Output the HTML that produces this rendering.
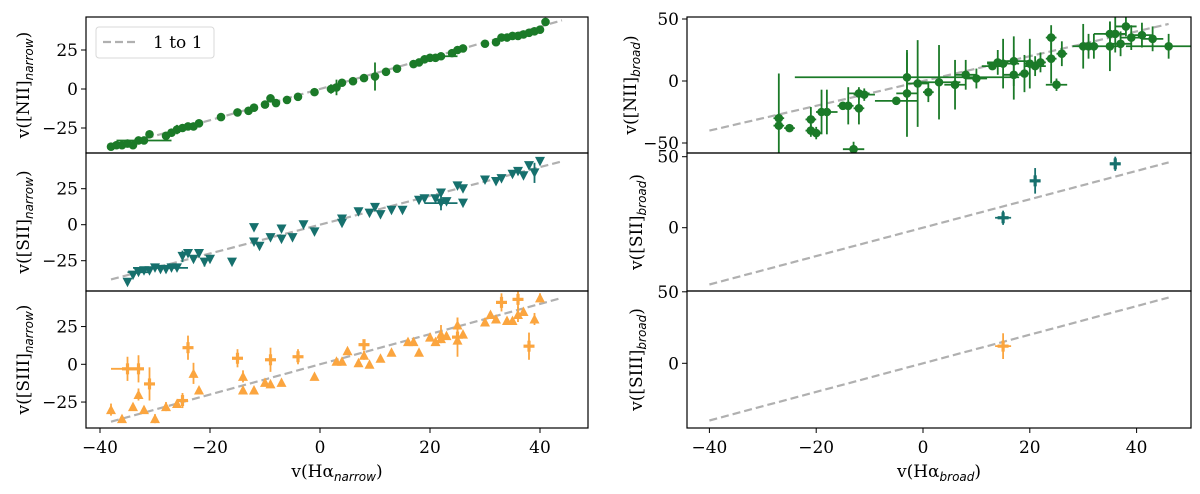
<!DOCTYPE html>
<html><head><meta charset="utf-8">
<style>
html,body{margin:0;padding:0;background:#fff;}
svg{display:block;}
text{font-family:"DejaVu Serif","Liberation Serif",serif;fill:#000;}
.sub{font-family:"DejaVu Sans","Liberation Sans",sans-serif;font-style:italic;}
</style></head>
<body>
<svg id="chart" width="1200" height="494" viewBox="0 0 1200 494" xmlns="http://www.w3.org/2000/svg">
</svg>
<script>
// ---- data (x, y, yerr, xerr) ----
const niiNarrowX=[-38,-37,-36,-35,-34,-33,-32,-31,-28,-27,-26,-25,-24,-23,-22,-18,-15,-13,-12,-10,-9,-8,-6,-4,-1,2,3,4,6,8,10,12,14,17,18,19,20,21,22,24,25,26,30,32,33,34,35,36,37,38,39,40,41];
const niiNarrowY=[-37,-36,-36,-35,-36,-33,-33,-29,-30,-28,-26,-25,-24,-24,-22,-18,-15,-14,-12,-10,-6,-9,-7,-5,-2,0,1,4,5,7,8,11,13,16,17,19,20,20,21,23,25,26,29,30,33,33,34,34,35,36,37,38,43];
const niiNarrowYErr=[0,0,0,0,0,0,0,0,0,0,3,0,0,0,0,0,0,0,0,0,0,0,0,0,0,3,5,0,0,0,9,0,0,0,0,0,0,0,0,0,0,0,0,0,0,0,0,0,0,0,0,0,0];
const niiNarrowXErr=[0,0,0,0,0,0,5,0,0,0,0,0,0,0,0,0,0,0,0,0,0,0,0,0,0,0,0,0,0,0,0,0,0,0,0,0,0,0,3,0,0,0,0,0,0,0,0,0,0,0,0,0,0];
const siiNarrowX=[-35,-34,-33,-32,-31,-30,-29,-28,-27,-26,-25,-24,-23,-22,-21,-20,-16,-12,-12,-11,-9,-7,-7,-5,-3,-1,4,4,7,9,10,11,13,15,18,19,21,22,22,23,25,26,26,30,32,33,35,36,37,38,39,40];
const siiNarrowY=[-40,-35,-33,-32,-32,-30,-31,-31,-30,-30,-22,-20,-24,-20,-26,-24,-26,-2,-12,-15,-9,-3,-10,-9,0,-5,1,4,9,8,12,7,10,10,17,18,18,22,15,16,27,25,15,31,30,32,35,37,34,41,36,44];
const siiNarrowYErr=[0,0,0,0,0,0,0,0,0,0,4,0,0,0,3,0,0,0,0,0,0,0,0,0,0,0,0,0,0,0,0,0,0,0,0,0,0,0,5,0,0,0,0,0,0,0,0,0,0,0,7,0];
const siiNarrowXErr=[0,0,2,0,0,4,0,0,3,0,0,0,0,0,0,0,0,0,0,0,0,0,0,0,0,0,0,0,0,0,0,0,0,0,0,0,0,0,3,0,0,0,0,0,0,0,0,0,0,0,0,0];
const siiiNarrowX=[-38,-36,-35,-34,-33,-33,-32,-31,-30,-28,-26,-25,-24,-23,-22,-15,-14,-14,-12,-10,-9,-9,-7,-4,-1,3,4,5,7,8,8,9,11,13,16,17,18,20,21,22,22,23,25,25,25,26,30,31,32,33,34,35,36,36,37,38,39,40];
const siiiNarrowY=[-30,-36,-3,-28,-20,-3,-30,-13,-36,-28,-26,-24,11,-6,-17,4,-8,-17,-17,-12,3,-13,-12,5,-8,2,2,9,1,13,6,0,4,8,15,15,8,18,15,20,17,19,26,18,16,20,28,33,30,41,29,29,43,33,35,12,30,44];
const siiiNarrowYErr=[4,0,8,0,4,9,0,11,3,3,0,5,8,7,0,6,4,0,0,0,8,0,0,5,0,0,0,0,0,3,3,0,0,0,0,0,0,0,0,6,0,0,5,13,0,0,0,0,0,6,0,0,6,5,0,9,4,3];
const siiiNarrowXErr=[0,0,3,0,0,0,0,0,0,0,0,0,0,0,0,0,0,0,0,0,0,0,0,0,0,0,0,0,0,0,0,0,0,0,0,0,0,0,0,0,0,0,0,0,0,0,0,0,0,0,0,0,0,0,0,0,0,0];
const siiiNarrowCross=[0,0,1,0,0,1,0,1,0,0,0,1,1,0,0,1,0,0,0,0,1,0,0,1,0,0,0,0,0,1,0,0,0,0,0,0,0,0,0,0,0,0,0,1,0,0,0,0,0,1,0,0,1,0,0,1,0,0];
const niiBroadX=[-27,-27,-25,-21,-21,-20,-19,-18,-15,-14,-13,-12,-12,-11,-5,-3,-3,-1,1,3,6,8,10,13,14,15,17,17,19,20,21,22,24,24,25,26,30,31,32,35,35,36,37,38,39,41,43,46];
const niiBroadY=[-36,-30,-38,-31,-40,-42,-25,-25,-20,-20,-55,-10,-22,-11,-16,-10,3,-2,-9,-1,-3,5,2,12,15,14,16,5,6,14,12,15,35,18,-3,22,28,28,28,28,38,38,30,44,35,37,34,28];
const niiBroadYErr=[3,36,2,10,5,5,18,18,3,15,6,5,13,5,3,35,20,35,8,30,20,12,8,3,10,20,20,20,15,20,8,8,10,20,5,10,18,10,10,20,10,15,10,8,10,10,10,10];
const niiBroadXErr=[1,1,1,1,1,1,1,2,1,1,2,2,1,2,4,2,21,2,1,4,2,2,2,2,2,3,3,2,1,1,2,1,1,1,2,1,2,2,1,2,3,2,2,2,2,2,2,8];
const siiBroadX=[15,21,36];
const siiBroadY=[7,33,45];
const siiBroadYErr=[5,9,5];
const siiBroadXErr=[1.5,0.8,1];
const siiiBroadX=[15];
const siiiBroadY=[12];
const siiiBroadYErr=[9];
const siiiBroadXErr=[1.5];
const leftXTicks=[-40,-20,0,20,40];
const rightXTicks=[-40,-20,0,20,40];
const leftYTicks=[25,0,-25];

const NS="http://www.w3.org/2000/svg";
const svg=document.getElementById('chart');
function el(tag,attrs,parent){const e=document.createElementNS(NS,tag);for(const k in attrs)e.setAttribute(k,attrs[k]);(parent||svg).appendChild(e);return e;}

const GREEN="#1b7a28",TEAL="#16706d",ORANGE="#fba53f",GRAY="#b0b0b0";
const panels=[
 {id:'nii-narrow',x0:86,x1:588,y0:17,y1:153,cx:320,sx:5.5,cy:89,sy:1.56,yt:leftYTicks,xt:null,lab:'[NII]',sub:'narrow',lx:23,col:GREEN,mk:'circle',X:niiNarrowX,Y:niiNarrowY,YE:niiNarrowYErr,XE:niiNarrowXErr,line:[-38,44]},
 {id:'sii-narrow',x0:86,x1:588,y0:153,y1:291,cx:320,sx:5.5,cy:224.7,sy:1.44,yt:leftYTicks,xt:null,lab:'[SII]',sub:'narrow',lx:23,col:TEAL,mk:'down',X:siiNarrowX,Y:siiNarrowY,YE:siiNarrowYErr,XE:siiNarrowXErr,line:[-38,44]},
 {id:'siii-narrow',x0:86,x1:588,y0:291,y1:428,cx:320,sx:5.5,cy:364.3,sy:1.51,yt:leftYTicks,xt:leftXTicks,lab:'[SIII]',sub:'narrow',lx:23,col:ORANGE,mk:'up',X:siiiNarrowX,Y:siiiNarrowY,YE:siiiNarrowYErr,XE:siiiNarrowXErr,CR:siiiNarrowCross,line:[-38,44],xlab:'narrow'},
 {id:'nii-broad',x0:687,x1:1191,y0:17,y1:153,cx:923,sx:5.34,cy:81,sy:1.24,yt:[50,0,-50],xt:null,lab:'[NII]',sub:'broad',lx:630,col:GREEN,mk:'circle',X:niiBroadX,Y:niiBroadY,YE:niiBroadYErr,XE:niiBroadXErr,line:[-40,46]},
 {id:'sii-broad',x0:687,x1:1191,y0:153,y1:291,cx:923,sx:5.34,cy:227.7,sy:1.42,yt:[50,0],xt:null,lab:'[SII]',sub:'broad',lx:636,col:TEAL,mk:'cross',X:siiBroadX,Y:siiBroadY,YE:siiBroadYErr,XE:siiBroadXErr,line:[-40,46]},
 {id:'siii-broad',x0:687,x1:1191,y0:291,y1:428,cx:923,sx:5.34,cy:363.3,sy:1.43,yt:[50,0],xt:rightXTicks,lab:'[SIII]',sub:'broad',lx:636,col:ORANGE,mk:'cross',X:siiiBroadX,Y:siiiBroadY,YE:siiiBroadYErr,XE:siiiBroadXErr,line:[-40,46],xlab:'broad'}
];

panels.forEach((p,pi)=>{
 const g=el('g',{});
 
 
 const X=v=>p.cx+v*p.sx, Y=v=>p.cy-v*p.sy;
 const cid='clip'+pi;
 const cp=el('clipPath',{id:cid},g);el('rect',{x:p.x0,y:p.y0,width:p.x1-p.x0,height:p.y1-p.y0},cp);
 const plot=el('g',{'clip-path':'url(#'+cid+')'},g);
 const ln=el('line',{x1:X(p.line[0]),y1:Y(p.line[0]),x2:X(p.line[1]),y2:Y(p.line[1]),stroke:GRAY,'stroke-width':2.2,'stroke-dasharray':'8,4'},plot);
 
 
 p.X.forEach((xv,i)=>{
  const px=X(xv),py=Y(p.Y[i]);
  const pt=el('g',{},plot);
  
  
  const ye=p.YE[i],xe=p.XE[i];
  if(ye>0)el('line',{x1:px,x2:px,y1:Y(p.Y[i]-ye),y2:Y(p.Y[i]+ye),stroke:p.col,'stroke-width':1.8},pt);
  if(xe>0)el('line',{y1:py,y2:py,x1:X(xv-xe),x2:X(xv+xe),stroke:p.col,'stroke-width':1.8},pt);
  let mk=p.mk; if(p.CR&&p.CR[i])mk='cross';
  if(mk==='circle')el('circle',{cx:px,cy:py,r:4.3,fill:p.col},pt);
  else if(mk==='down')el('path',{d:`M${px-5},${py-4.5}L${px+5},${py-4.5}L${px},${py+5}Z`,fill:p.col},pt);
  else if(mk==='up')el('path',{d:`M${px-5},${py+4.5}L${px+5},${py+4.5}L${px},${py-5}Z`,fill:p.col},pt);
  else {el('line',{x1:px-5.5,x2:px+5.5,y1:py,y2:py,stroke:p.col,'stroke-width':3.2},pt);el('line',{x1:px,x2:px,y1:py-5.5,y2:py+5.5,stroke:p.col,'stroke-width':3.2},pt);}
 });
 const fr=el('rect',{x:p.x0,y:p.y0,width:p.x1-p.x0,height:p.y1-p.y0,fill:'none',stroke:'#000','stroke-width':1.2},g);
 
 
 p.yt.forEach(t=>{
  const ty=Y(t);
  el('line',{x1:p.x0-5,x2:p.x0,y1:ty,y2:ty,stroke:'#000','stroke-width':1},g);
  const tx=el('text',{x:p.x0-8,y:ty+6,'text-anchor':'end','font-size':17},g);
  tx.textContent=(t<0?'\u2212'+(-t):String(t));
  
  
 });
 if(p.xt){p.xt.forEach(t=>{
  const tx0=X(t);
  el('line',{x1:tx0,x2:tx0,y1:p.y1,y2:p.y1+5,stroke:'#000','stroke-width':1},g);
  const tx=el('text',{x:tx0,y:p.y1+25,'text-anchor':'middle','font-size':17},g);
  tx.textContent=(t<0?'\u2212'+(-t):String(t));
  
  
 });
  const xl=el('text',{x:(p.x0+p.x1)/2,y:477,'text-anchor':'middle','font-size':17},g);
  xl.innerHTML='v(H\u03b1<tspan class="sub" font-size="12" dy="4">'+p.xlab+'</tspan><tspan dy="-4">)</tspan>';
  
  
 }
 const cyl=(p.y0+p.y1)/2;
 const yl=el('text',{x:0,y:0,'text-anchor':'middle','font-size':17,transform:`translate(${p.lx+6},${cyl}) rotate(-90)`},g);
 yl.innerHTML='v('+p.lab+'<tspan class="sub" font-size="12" dy="4">'+p.sub+'</tspan><tspan dy="-4">)</tspan>';
 
 
});

// legend
const lg=el('g',{});


el('rect',{x:96,y:27,width:118,height:31,rx:3,fill:'#fff',stroke:'#d8d8d8','stroke-width':1},lg);
el('line',{x1:103,x2:138,y1:42,y2:42,stroke:GRAY,'stroke-width':2.2,'stroke-dasharray':'8,4'},lg);
const lt=el('text',{x:153,y:48,'font-size':17},lg);
lt.textContent='1 to 1';


</script>
</body></html>
